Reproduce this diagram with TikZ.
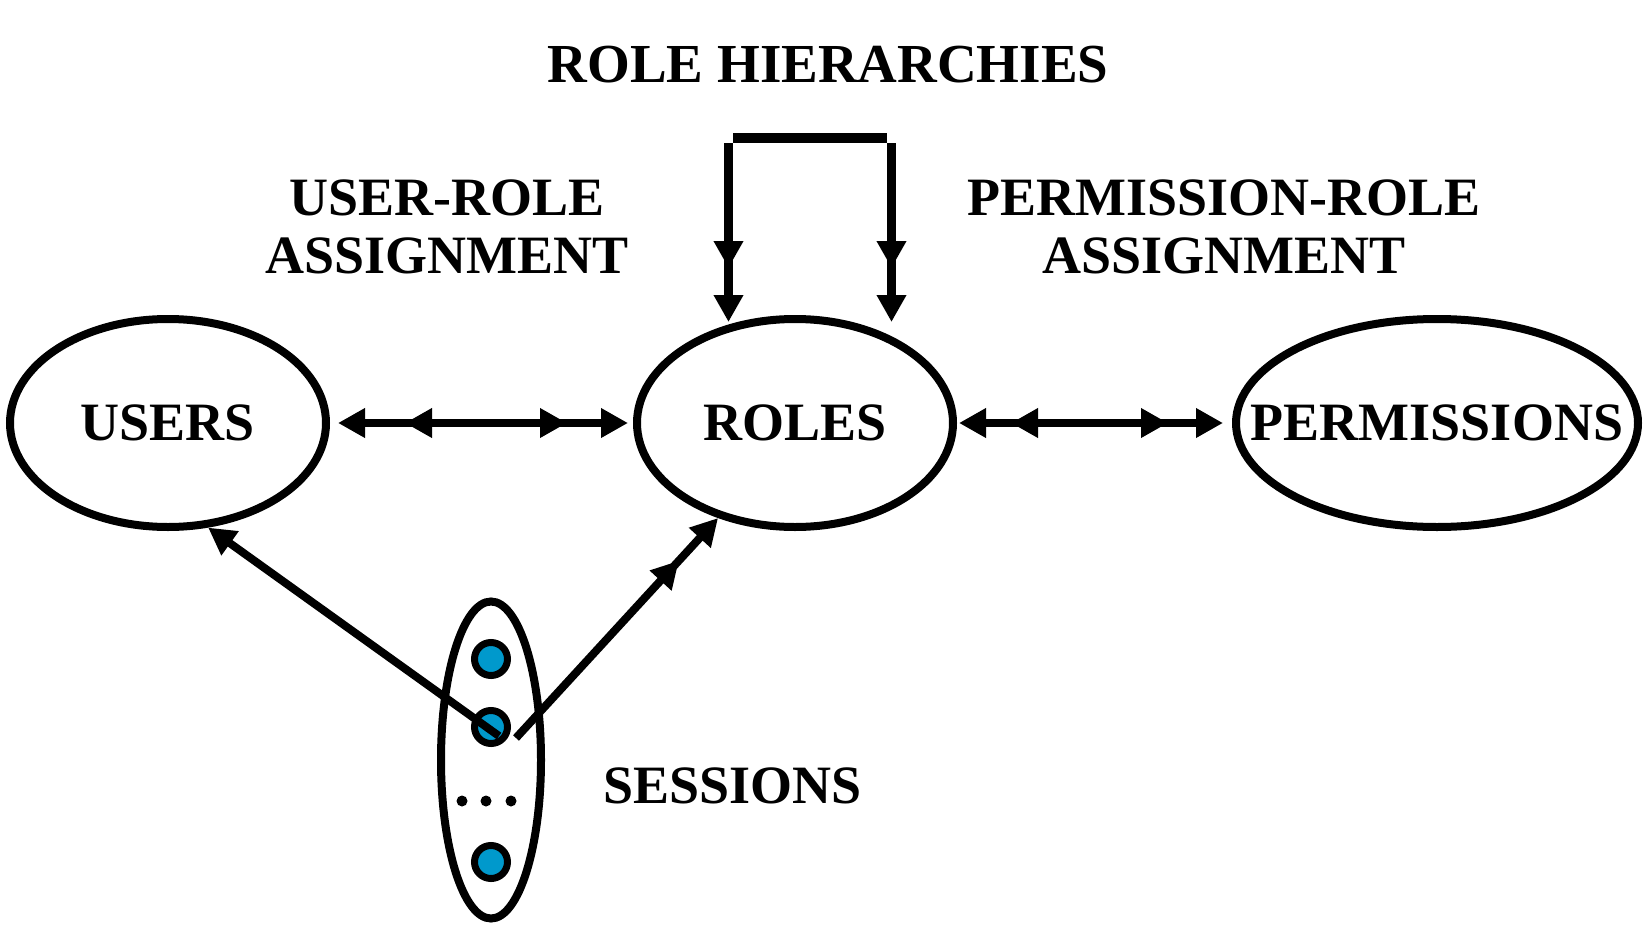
\documentclass[tikz,border=0pt]{standalone}
\usepackage{fontspec}
\setmainfont{Liberation Serif}
\usetikzlibrary{arrows.meta,shapes.geometric,decorations.markings}
\definecolor{dotblue}{RGB}{0,153,204}
\begin{document}
\begin{tikzpicture}[x=1pt,y=-1pt,
  >={Triangle[length=27pt,width=28pt]},
  bigfont/.style={font=\bfseries\fontsize{54}{58}\selectfont},
  lbl/.style={bigfont, inner sep=0pt, align=center},
  setnode/.style={ellipse, draw, line width=8pt, inner sep=0pt, minimum height=208pt},
  setlbl/.style={label={[lbl]center:#1}},
  conn/.style={line width=8pt},
  sdot/.style={circle, draw, fill=dotblue, line width=7pt, minimum size=33pt, inner sep=0pt},
  smalldot/.style={circle, fill=black, minimum size=11pt, inner sep=0pt},
  dmarks/.style 2 args={postaction={decorate}, decoration={markings,
      mark=at position #1 with {\arrow{<}}, mark=at position #2 with {\arrow{>}}}},
  onemark/.style={postaction={decorate}, decoration={markings,
      mark=at position #1 with {\arrow{>}}}}
]
\useasboundingbox (0,0) rectangle (1652,942);

% main sets
\node[setnode, minimum width=316pt, setlbl=USERS] (users) at (168,423) {};
\node[setnode, minimum width=316pt, setlbl=ROLES] (roles) at (795,423) {};
\node[setnode, minimum width=402pt, setlbl=PERMISSIONS] (perms) at (1437,423) {};

% labels
\node[lbl, font=\bfseries\fontsize{55}{58}\selectfont, anchor=base] (rh) at (828,82) {ROLE HIERARCHIES};
\node[lbl, anchor=base] (ura) at (447,273) {USER-ROLE\\ASSIGNMENT};
\node[lbl, anchor=base] (pra) at (1224,273) {PERMISSION-ROLE\\ASSIGNMENT};
\node[lbl, anchor=base west] (sesslbl) at (603,803) {SESSIONS};

% assignments
\draw[conn, <->, dmarks={94pt}{-61pt}] ([xshift=8pt]users.east) -- ([xshift=-5pt]roles.west);
\draw[conn, <->, dmarks={79pt}{-55pt}] ([xshift=2pt]roles.east) -- ([xshift=-9pt]perms.west);

% role hierarchy bracket
\coordinate (hl) at (728.5,143);
\coordinate (hr) at (891.5,143);
\coordinate (tl) at (728.5,322);
\coordinate (tr) at (891.5,322);
\coordinate (bl) at (733.3,138);
\coordinate (br) at (886.7,138);
\draw[line width=10pt] (bl) -- (br);
\draw[line width=9pt, ->, onemark={-54pt}] (hl) -- (tl);
\draw[line width=9pt, ->, onemark={-54pt}] (hr) -- (tr);

% sessions
\node[ellipse, draw, line width=8pt, minimum width=100pt, minimum height=317pt, inner sep=0pt] (sess) at (491,760) {};
\node[sdot] (s1) at (491,659) {};
\node[sdot] (s2) at (491,727) {};
\node[sdot] (s3) at (491,862) {};
\node[smalldot] (d1) at (462,801) {};
\node[smalldot] (d2) at (486,801) {};
\node[smalldot] (d3) at (511,801) {};

\coordinate (s2u) at (499,736);
\coordinate (s2r) at (516,738);
\draw[conn, ->] (s2u) -- (users.-69);
\draw[conn, ->, onemark={-58pt}] (s2r) -- (roles.-129);
\end{tikzpicture}
\end{document}
